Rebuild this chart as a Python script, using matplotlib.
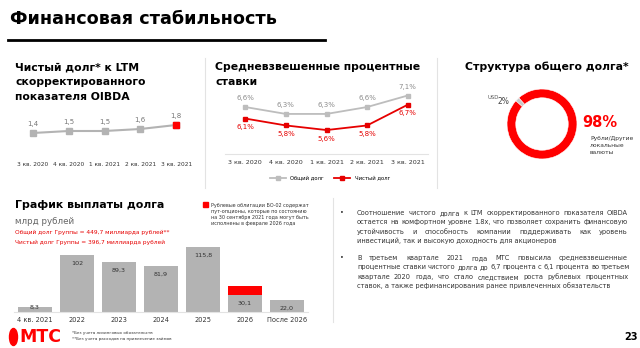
import numpy as np
import matplotlib.pyplot as plt
from matplotlib.patches import Ellipse, Rectangle
from matplotlib.lines import Line2D

plt.rcParams['font.family'] = ['DejaVu Sans']

W, H = 640, 348

# data
quarters = ['3 кв. 2020', '4 кв. 2020', '1 кв. 2021', '2 кв. 2021', '3 кв. 2021']
leverage = [1.4, 1.5, 1.5, 1.6, 1.8]

rate_total = [6.6, 6.3, 6.3, 6.6, 7.1]
rate_net = [6.1, 5.8, 5.6, 5.8, 6.7]

debt_share = [2, 98]          # USD, рубли/другие
debt_names = ['USD', 'Рубли/Другие\nлокальные\nвалюты']

years = ['4 кв. 2021', '2022', '2023', '2024', '2025', '2026', 'После 2026']
repay = [8.3, 102, 89.3, 81.9, 115.8, 30.1, 22.0]
repay_put = [0, 0, 0, 0, 0, 16, 0]

RED = '#ff0000'
GREY = '#b3b3b3'
LGREY = '#e3e3e3'


def box(x0, y0, x1, y1):
    return [x0 / W, 1 - y1 / H, (x1 - x0) / W, (y1 - y0) / H]


def comma(v, fmt='{:.1f}'):
    return fmt.format(v).replace('.', ',')


fig = plt.figure(figsize=(6.4, 3.48), dpi=100)


def ftext(x, y, s, **kw):
    kw.setdefault('va', 'center')
    return fig.text(x / W, 1 - y / H, s, **kw)


def fline(xs, ys, **kw):
    fig.add_artist(Line2D([x / W for x in xs], [1 - y / H for y in ys], **kw))


# header
ftext(10, 19, 'Финансовая стабильность', fontsize=12.7, fontweight='bold')
fline([8, 325], [40, 40], color='black', lw=2)

# separators
fline([205, 205], [58, 188], color=LGREY, lw=0.8)
fline([437, 437], [58, 188], color=LGREY, lw=0.8)
fline([333, 333], [198, 322], color=LGREY, lw=0.8)

# ---- panel 1 : leverage
ftext(15, 67, 'Чистый долг* к LTM', fontsize=7.8, fontweight='bold')
ftext(15, 82, 'скорректированного', fontsize=7.8, fontweight='bold')
ftext(15, 97, 'показателя OIBDA', fontsize=7.8, fontweight='bold')

ax1 = fig.add_axes(box(15, 110, 194, 150))
x = np.arange(len(quarters))
ax1.plot(x, leverage, color=GREY, lw=1.5, marker='s', ms=4, mfc=GREY, mec=GREY)
ax1.plot(x[-1], leverage[-1], ls='', marker='s', ms=4.5, color=RED)
for i, v in enumerate(leverage):
    ax1.annotate(comma(v), (i, v), xytext=(0, 4), textcoords='offset points',
                 ha='center', va='bottom', fontsize=5, color='#777777')
ax1.set_xlim(-0.5, 4.5)
ax1.set_ylim(0.55, 2.55)
ax1.set_yticks([])
ax1.set_xticks(x, quarters, fontsize=4.2, color='#333333')
ax1.tick_params(axis='x', length=0, pad=8.5)
for s in ax1.spines.values():
    s.set_visible(False)
ax1.patch.set_alpha(0)

# ---- panel 2 : rates
ftext(215, 67, 'Средневзвешенные процентные', fontsize=7.8, fontweight='bold')
ftext(215, 82, 'ставки', fontsize=7.8, fontweight='bold')

ax2 = fig.add_axes(box(225, 90, 428, 154))
ax2.plot(x, rate_total, color='#bdbdbd', lw=1.3, marker='s', ms=3.5, label='Общий долг')
ax2.plot(x, rate_net, color='#e60000', lw=1.3, marker='s', ms=3.5, label='Чистый долг')
for i in range(len(x)):
    ax2.annotate(comma(rate_total[i]) + '%', (i, rate_total[i]), xytext=(0, 4),
                 textcoords='offset points', ha='center', va='bottom',
                 fontsize=5, color='#8c8c8c')
    ax2.annotate(comma(rate_net[i]) + '%', (i, rate_net[i]), xytext=(0, -4),
                 textcoords='offset points', ha='center', va='top',
                 fontsize=5, color='#e60000')
ax2.set_xlim(-0.5, 4.5)
ax2.set_ylim(4.56, 7.34)
ax2.set_yticks([])
ax2.set_xticks(x, quarters, fontsize=4.6, color='#333333')
ax2.tick_params(axis='x', length=0, pad=4.5)
for k in ['top', 'left', 'right']:
    ax2.spines[k].set_visible(False)
ax2.spines['bottom'].set_color(LGREY)
ax2.spines['bottom'].set_linewidth(0.8)
ax2.patch.set_alpha(0)
fig.legend(*ax2.get_legend_handles_labels(), loc='center',
           bbox_to_anchor=(330 / W, 1 - 178 / H), ncol=2, frameon=False,
           fontsize=3.8, handlelength=3, columnspacing=2, markerscale=0.8)

# ---- panel 3 : donut
ftext(465, 67, 'Структура общего долга*', fontsize=7.8, fontweight='bold')
ax3 = fig.add_axes(box(492, 74, 592, 174))
ax3.pie(debt_share, colors=['#c8c8c8', RED], startangle=131.4, counterclock=True,
        radius=1, wedgeprops=dict(width=0.25, edgecolor='white', linewidth=0.4))
ax3.set_xlim(-1.43, 1.43)
ax3.set_ylim(-1.43, 1.43)
ftext(487, 98, debt_names[0], fontsize=3.8, color='#555555')
ftext(497, 101, '%d%%' % debt_share[0], fontsize=5.5, color='#444444')
ftext(582, 122, '%d%%' % debt_share[1], fontsize=10.5, fontweight='bold', color=RED)
ftext(590, 145, debt_names[1], fontsize=4.3, color='#333333', linespacing=1.5)

# ---- panel 4 : repayment
ftext(15, 205, 'График выплаты долга', fontsize=7.9, fontweight='bold')
ftext(15, 221, 'млрд рублей', fontsize=6.3, color='#666666')
ftext(15, 232, 'Общий долг Группы = 449,7 миллиарда рублей**', fontsize=4.2, color='#e60000')
ftext(15, 242, 'Чистый долг Группы = 396,7 миллиарда рублей', fontsize=4.2, color='#e60000')

fig.add_artist(Rectangle((203 / W, 1 - 207 / H), 5 / W, 5 / H, color=RED))
note = ['Рублевые облигации БО-02 содержат', 'пут-опционы, которые по состоянию',
        'на 30 сентября 2021 года могут быть', 'исполнены в феврале 2026 года']
for k, s in enumerate(note):
    ftext(211, 205 + 6 * k, s, fontsize=3.5, color='#333333')

ax4 = fig.add_axes(box(14, 240, 308, 312))
xb = np.arange(len(years))
ax4.bar(xb, repay, width=0.83, color=GREY)
ax4.bar(xb, repay_put, bottom=repay, width=0.83, color=RED)
for i, v in enumerate(repay):
    lab = comma(v, '{:.0f}') if v >= 100 and v == int(v) else comma(v)
    off = 0 if v < 10 else -6
    ax4.annotate(lab, (i, v), xytext=(0, off), textcoords='offset points',
                 ha='center', va='center', fontsize=4.6, color='#333333')
ax4.set_xlim(-0.5, 6.5)
ax4.set_ylim(0, 128.6)
ax4.set_yticks([])
ax4.set_xticks(xb, years, fontsize=4.8, color='#333333')
ax4.tick_params(axis='x', length=0, pad=3.8)
for k in ['top', 'left', 'right']:
    ax4.spines[k].set_visible(False)
ax4.spines['bottom'].set_color(LGREY)
ax4.spines['bottom'].set_linewidth(0.8)
ax4.patch.set_alpha(0)

# ---- right text (justified by hand)
par1 = ['Соотношение чистого долга к LTM скорректированного показателя OIBDA',
        'остается на комфортном уровне 1.8x, что позволяет сохранить финансовую',
        'устойчивость и способность компании поддерживать как уровень',
        'инвестиций, так и высокую доходность для акционеров']
par2 = ['В третьем квартале 2021 года МТС повысила средневзвешенные',
        'процентные ставки чистого долга до 6,7 процента с 6,1 процента во третьем',
        'квартале 2020 года, что стало следствием роста рублевых процентных',
        'ставок, а также рефинансирования ранее привлеченных обязательств']
renderer = fig.canvas.get_renderer()
X0, X1, FS = 357, 628, 4.8
for y0, par in [(213, par1), (258, par2)]:
    ftext(340, y0, '•', fontsize=FS, color='#333333')
    for k, s in enumerate(par):
        y = y0 + 9.3 * k
        if k == len(par) - 1:
            ftext(X0, y, s, fontsize=FS, color='#333333')
            continue
        words = s.split(' ')
        ts = [ftext(X0, y, w, fontsize=FS, color='#333333') for w in words]
        widths = [t.get_window_extent(renderer).width for t in ts]
        gap = max((X1 - X0 - sum(widths)) / (len(words) - 1), 1.8)
        pos = X0
        for t, wd in zip(ts, widths):
            t.set_x(pos / W)
            pos += wd + gap

# ---- footer
fig.add_artist(Ellipse((13.5 / W, 1 - 337 / H), 8 / W, 17 / H, color=RED))
ftext(19, 337, 'МТС', fontsize=12.5, fontweight='bold', color=RED)
ftext(72, 333, '*Без учета лизинговых обязательств', fontsize=3.0, color='#333333')
ftext(72, 339, '**Без учета расходов на привлечение займов', fontsize=3.0, color='#333333')
ftext(624, 337, '23', fontsize=7, fontweight='bold')

fig.savefig('out.png', dpi=100)
